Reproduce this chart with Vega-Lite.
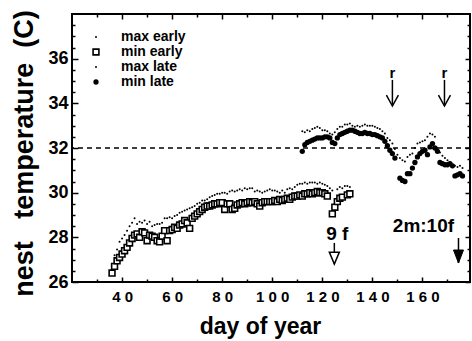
{
  "$schema": "https://vega.github.io/schema/vega-lite/v6.json",
  "width": 398,
  "height": 268,
  "autosize": "none",
  "padding": {"left": 72, "top": 14, "right": 2, "bottom": 59},
  "background": "white",
  "config": {
    "font": "Liberation Sans",
    "view": {"stroke": "black", "strokeWidth": 2},
    "axis": {"domain": false, "grid": false, "tickColor": "black", "tickWidth": 1.5, "labelColor": "black", "titleColor": "black", "labelFont": "Liberation Sans", "titleFont": "Liberation Sans", "labelFontWeight": "bold", "titleFontWeight": "bold"}
  },
  "datasets": {
    "temps": [
      {"day": 36, "min early": 26.4},
      {"day": 37, "min early": 26.7, "max early": 27.2},
      {"day": 38, "min early": 26.95, "max early": 27.45},
      {"day": 39, "min early": 27.1, "max early": 27.8},
      {"day": 40, "min early": 27.25, "max early": 27.95},
      {"day": 41, "min early": 27.4, "max early": 28.1},
      {"day": 42, "min early": 27.55, "max early": 28.3},
      {"day": 43, "min early": 27.75, "max early": 28.5},
      {"day": 44, "min early": 27.95, "max early": 28.65},
      {"day": 45, "min early": 28.1, "max early": 28.85},
      {"day": 46, "min early": 28.15, "max early": 28.6},
      {"day": 47, "min early": 28.0, "max early": 28.7},
      {"day": 48, "min early": 28.25, "max early": 28.65},
      {"day": 49, "min early": 28.2, "max early": 28.75},
      {"day": 50, "min early": 27.85, "max early": 28.6},
      {"day": 51, "min early": 28.1, "max early": 28.7},
      {"day": 52, "min early": 28.05, "max early": 28.5},
      {"day": 53, "min early": 28.0, "max early": 28.55},
      {"day": 54, "min early": 27.85, "max early": 28.6},
      {"day": 55, "min early": 27.8, "max early": 28.6},
      {"day": 56, "min early": 28.05, "max early": 28.65},
      {"day": 57, "min early": 28.3, "max early": 28.85},
      {"day": 58, "min early": 27.85, "max early": 28.85},
      {"day": 59, "min early": 28.3, "max early": 28.9},
      {"day": 60, "min early": 28.35, "max early": 28.85},
      {"day": 61, "min early": 28.45, "max early": 28.95},
      {"day": 62, "min early": 28.4, "max early": 29.0},
      {"day": 63, "min early": 28.55, "max early": 29.1},
      {"day": 64, "min early": 28.6, "max early": 29.15},
      {"day": 65, "min early": 28.75, "max early": 29.2},
      {"day": 66, "min early": 28.65, "max early": 29.25},
      {"day": 67, "min early": 28.4, "max early": 29.3},
      {"day": 68, "min early": 28.85, "max early": 29.35},
      {"day": 69, "min early": 28.95, "max early": 29.4},
      {"day": 70, "min early": 29.05, "max early": 29.5},
      {"day": 71, "min early": 29.15, "max early": 29.55},
      {"day": 72, "min early": 29.25, "max early": 29.65},
      {"day": 73, "min early": 29.35, "max early": 29.65},
      {"day": 74, "min early": 29.4, "max early": 29.7},
      {"day": 75, "min early": 29.4, "max early": 29.8},
      {"day": 76, "min early": 29.45, "max early": 29.85},
      {"day": 77, "min early": 29.5, "max early": 29.9},
      {"day": 78, "min early": 29.5, "max early": 29.95},
      {"day": 79, "min early": 29.55, "max early": 29.95},
      {"day": 80, "min early": 29.55, "max early": 30.0},
      {"day": 81, "min early": 29.25, "max early": 30.0},
      {"day": 82, "min early": 29.5, "max early": 29.95},
      {"day": 83, "min early": 29.5, "max early": 30.05},
      {"day": 84, "min early": 29.25, "max early": 30.1},
      {"day": 85, "min early": 29.3, "max early": 30.05},
      {"day": 86, "min early": 29.45, "max early": 30.1},
      {"day": 87, "min early": 29.5, "max early": 30.15},
      {"day": 88, "min early": 29.55, "max early": 30.1},
      {"day": 89, "min early": 29.5, "max early": 30.2},
      {"day": 90, "min early": 29.55, "max early": 30.15},
      {"day": 91, "min early": 29.6, "max early": 30.2},
      {"day": 92, "min early": 29.55, "max early": 30.2},
      {"day": 93, "min early": 29.6, "max early": 30.05},
      {"day": 94, "min early": 29.5, "max early": 30.1},
      {"day": 95, "min early": 29.4, "max early": 30.05},
      {"day": 96, "min early": 29.55, "max early": 30.0},
      {"day": 97, "min early": 29.6, "max early": 30.05},
      {"day": 98, "min early": 29.6, "max early": 30.1},
      {"day": 99, "min early": 29.6, "max early": 30.15},
      {"day": 100, "min early": 29.6, "max early": 30.1},
      {"day": 101, "min early": 29.65, "max early": 30.1},
      {"day": 102, "min early": 29.6, "max early": 30.05},
      {"day": 103, "min early": 29.7, "max early": 30.0},
      {"day": 104, "min early": 29.65, "max early": 30.1},
      {"day": 105, "min early": 29.7, "max early": 30.0},
      {"day": 106, "min early": 29.75, "max early": 30.15},
      {"day": 107, "min early": 29.7, "max early": 30.2},
      {"day": 108, "min early": 29.8, "max early": 30.15},
      {"day": 109, "min early": 29.85, "max early": 30.25},
      {"day": 110, "min early": 29.85, "max early": 30.35},
      {"day": 111, "min early": 29.9, "max early": 30.4},
      {"day": 112, "min early": 29.85, "max early": 30.4, "max late": 32.75, "min late": 31.85},
      {"day": 113, "min early": 29.95, "max early": 30.45, "max late": 32.7, "min late": 32.15},
      {"day": 114, "min early": 29.95, "max early": 30.4, "max late": 32.8, "min late": 32.25},
      {"day": 115, "min early": 30.0, "max early": 30.45, "max late": 32.75, "min late": 32.3},
      {"day": 116, "min early": 29.95, "max early": 30.45, "max late": 32.85, "min late": 32.35},
      {"day": 117, "min early": 30.0, "max early": 30.45, "max late": 32.9, "min late": 32.4},
      {"day": 118, "min early": 30.05, "max early": 30.4, "max late": 32.95, "min late": 32.45},
      {"day": 119, "min early": 30.0, "max early": 30.45, "max late": 32.9, "min late": 32.45},
      {"day": 120, "min early": 30.0, "max early": 30.4, "max late": 32.8, "min late": 32.45},
      {"day": 121, "min early": 29.95, "max early": 30.35, "max late": 32.8, "min late": 32.5},
      {"day": 122, "min early": 29.85, "max early": 30.3, "max late": 32.75, "min late": 32.5},
      {"day": 123, "max early": 30.2, "max late": 32.65, "min late": 32.45},
      {"day": 124, "min early": 29.05, "max early": 30.1, "max late": 32.6, "min late": 32.25},
      {"day": 125, "min early": 29.35, "max late": 32.7, "min late": 32.2},
      {"day": 126, "min early": 29.6, "max early": 30.15, "max late": 32.85, "min late": 32.45},
      {"day": 127, "min early": 29.75, "max early": 30.25, "max late": 32.95, "min late": 32.6},
      {"day": 128, "min early": 29.8, "max early": 30.2, "max late": 32.95, "min late": 32.65},
      {"day": 129, "max early": 30.3, "max late": 33.05, "min late": 32.7},
      {"day": 130, "min early": 29.9, "max early": 30.3, "max late": 33.05, "min late": 32.75},
      {"day": 131, "min early": 29.95, "max early": 30.25, "max late": 33.1, "min late": 32.8},
      {"day": 132, "max late": 33.0, "min late": 32.8},
      {"day": 133, "max late": 32.95, "min late": 32.75},
      {"day": 134, "max late": 33.0, "min late": 32.7},
      {"day": 135, "max late": 32.95, "min late": 32.65},
      {"day": 136, "max late": 33.0, "min late": 32.65},
      {"day": 137, "max late": 33.05, "min late": 32.7},
      {"day": 138, "max late": 33.0, "min late": 32.65},
      {"day": 139, "max late": 33.0, "min late": 32.65},
      {"day": 140, "max late": 33.0, "min late": 32.6},
      {"day": 141, "max late": 32.95, "min late": 32.6},
      {"day": 142, "max late": 32.9, "min late": 32.55},
      {"day": 143, "max late": 32.85, "min late": 32.5},
      {"day": 144, "max late": 32.75, "min late": 32.45},
      {"day": 145, "max late": 32.65, "min late": 32.3},
      {"day": 146, "max late": 32.45, "min late": 32.1},
      {"day": 147, "max late": 32.35, "min late": 31.9},
      {"day": 148, "max late": 32.2, "min late": 31.75},
      {"day": 149, "max late": 31.95, "min late": 31.55},
      {"day": 150, "max late": 31.7},
      {"day": 151, "max late": 31.55, "min late": 30.65},
      {"day": 152, "max late": 31.45, "min late": 30.55},
      {"day": 153, "max late": 31.4, "min late": 30.5},
      {"day": 154, "max late": 31.6, "min late": 30.85},
      {"day": 155, "max late": 31.7, "min late": 30.85},
      {"day": 156, "max late": 31.75, "min late": 31.1},
      {"day": 157, "max late": 32.0, "min late": 31.35},
      {"day": 158, "max late": 32.2, "min late": 31.6},
      {"day": 159, "max late": 32.25, "min late": 31.75},
      {"day": 160, "max late": 32.3, "min late": 31.85},
      {"day": 161, "max late": 32.35, "min late": 31.9},
      {"day": 162, "max late": 32.5, "min late": 31.7},
      {"day": 163, "max late": 32.65, "min late": 32.05},
      {"day": 164, "max late": 32.6, "min late": 32.2},
      {"day": 165, "max late": 32.5, "min late": 32.0},
      {"day": 166, "max late": 32.0, "min late": 31.85},
      {"day": 167, "max late": 31.8, "min late": 31.35},
      {"day": 168, "max late": 31.65, "min late": 31.3},
      {"day": 169, "max late": 31.55, "min late": 31.25},
      {"day": 170, "max late": 31.45, "min late": 31.25},
      {"day": 171, "max late": 31.35, "min late": 31.3},
      {"day": 172, "max late": 31.25, "min late": 31.2},
      {"day": 173, "max late": 31.2, "min late": 30.75},
      {"day": 174, "max late": 31.15, "min late": 30.8},
      {"day": 175, "max late": 31.2, "min late": 30.85},
      {"day": 176, "max late": 31.1, "min late": 30.75}
    ],
    "arrows": [
      {"day": 148, "top": 35.05, "tip": 33.88, "kind": "r"},
      {"day": 168.8, "top": 35.05, "tip": 33.88, "kind": "r"},
      {"day": 124.8, "top": 27.75, "tip": 26.8, "kind": "open"},
      {"day": 174.4, "top": 27.97, "tip": 26.85, "kind": "solid"}
    ],
    "notes": [
      {"day": 148, "temp": 35.13, "label": "r", "kind": "small"},
      {"day": 168.8, "temp": 35.13, "label": "r", "kind": "small"},
      {"day": 126, "temp": 27.88, "label": "9 f", "kind": "big"},
      {"day": 160.4, "temp": 28.24, "label": "2m:10f", "kind": "big"}
    ],
    "ref": [{"temp": 32}]
  },
  "resolve": {"axis": {"x": "independent", "y": "independent"}},
  "layer": [
    {
      "data": {"name": "ref"},
      "mark": {"type": "rule", "strokeDash": [5, 4], "strokeWidth": 1.3, "color": "black"},
      "encoding": {
        "y": {"field": "temp", "type": "quantitative", "scale": {"domain": [26, 38], "nice": false, "zero": false},
          "axis": {"orient": "left", "values": [26.5, 27, 27.5, 28.5, 29, 29.5, 30.5, 31, 31.5, 32.5, 33, 33.5, 34.5, 35, 35.5, 36.5, 37, 37.5], "tickSize": -3, "labels": false, "title": null}}
      }
    },
    {
      "data": {"name": "temps"},
      "transform": [
        {"fold": ["max early", "min early", "max late", "min late"], "as": ["series", "temp"]},
        {"filter": "isValid(datum.temp)"}
      ],
      "mark": {"type": "point", "filled": true, "stroke": "black", "opacity": 1},
      "encoding": {
        "x": {"field": "day", "type": "quantitative", "scale": {"domain": [20, 179], "nice": false, "zero": false},
          "axis": {"orient": "bottom", "values": [40, 60, 80, 100, 120, 140, 160], "tickSize": -5, "labelPadding": 12, "labelFontSize": 15,
            "labelExpr": "length(datum.label)==3 ? substring(datum.label,0,1)+' '+substring(datum.label,1,2)+' '+substring(datum.label,2,3) : substring(datum.label,0,1)+' '+substring(datum.label,1,2)",
            "title": "day of year", "titleFontSize": 23, "titleX": 188, "titleY": 51, "titleBaseline": "alphabetic", "titleAnchor": null}},
        "y": {"field": "temp", "type": "quantitative", "scale": {"domain": [26, 38], "nice": false, "zero": false},
          "axis": {"orient": "left", "values": [26, 28, 30, 32, 34, 36], "tickSize": -6, "labelPadding": 10, "labelFontSize": 18,
            "title": "nest\u00a0\u00a0 temperature\u00a0 (C)", "titleFontSize": 27, "titleX": -40, "titleY": 139, "titleAngle": -90, "titleAlign": "center", "titleBaseline": "alphabetic"}},
        "shape": {"field": "series", "type": "nominal",
          "scale": {"type": "ordinal", "domain": ["max early", "min early", "max late", "min late"], "range": ["circle", "square", "circle", "circle"]},
          "legend": {"title": null, "orient": "none", "legendX": 17, "legendY": 16, "padding": 0, "labelFont": "Liberation Sans", "labelFontWeight": "bold", "labelFontSize": 14, "labelColor": "black", "labelOffset": 18, "rowPadding": 1, "symbolStrokeColor": "black"}},
        "size": {"field": "series", "type": "nominal",
          "scale": {"type": "ordinal", "domain": ["max early", "min early", "max late", "min late"], "range": [4, 34, 4, 28]}},
        "fill": {"field": "series", "type": "nominal",
          "scale": {"type": "ordinal", "domain": ["max early", "min early", "max late", "min late"], "range": ["black", "white", "black", "black"]}},
        "strokeWidth": {"field": "series", "type": "nominal",
          "scale": {"type": "ordinal", "domain": ["max early", "min early", "max late", "min late"], "range": [0, 1.6, 0, 0]}}
      }
    },
    {
      "data": {"name": "arrows"},
      "mark": {"type": "rule", "strokeWidth": 1.5, "color": "black"},
      "encoding": {
        "x": {"field": "day", "type": "quantitative", "scale": {"domain": [20, 179], "nice": false, "zero": false},
          "axis": {"orient": "bottom", "values": [30, 50, 70, 90, 110, 130, 150, 170], "tickSize": -3, "labels": false, "title": null}},
        "y": {"field": "top", "type": "quantitative", "scale": {"domain": [26, 38], "nice": false, "zero": false},
          "axis": {"orient": "right", "values": [26, 28, 30, 32, 34, 36], "tickSize": -5, "labels": false, "title": null}},
        "y2": {"field": "tip"}
      }
    },
    {
      "data": {"name": "arrows"},
      "transform": [{"filter": "datum.kind == 'r'"}],
      "mark": {"type": "point", "shape": "M-1,-1.8L0,0L1,-1.8", "size": 144, "filled": false, "stroke": "black", "strokeWidth": 1.5, "opacity": 1},
      "encoding": {
        "x": {"field": "day", "type": "quantitative", "scale": {"domain": [20, 179], "nice": false, "zero": false},
          "axis": {"orient": "top", "values": [40, 60, 80, 100, 120, 140, 160], "tickSize": -5, "labels": false, "title": null}},
        "y": {"field": "tip", "type": "quantitative", "scale": {"domain": [26, 38], "nice": false, "zero": false},
          "axis": {"orient": "right", "values": [26.5, 27, 27.5, 28.5, 29, 29.5, 30.5, 31, 31.5, 32.5, 33, 33.5, 34.5, 35, 35.5, 36.5, 37, 37.5], "tickSize": -3, "labels": false, "title": null}}
      }
    },
    {
      "data": {"name": "arrows"},
      "transform": [{"filter": "datum.kind == 'open'"}],
      "mark": {"type": "point", "shape": "M-1,-2.4L0,0L1,-2.4Z", "size": 100, "filled": true, "fill": "white", "stroke": "black", "strokeWidth": 1.5, "opacity": 1},
      "encoding": {
        "x": {"field": "day", "type": "quantitative", "scale": {"domain": [20, 179], "nice": false, "zero": false},
          "axis": {"orient": "top", "values": [30, 50, 70, 90, 110, 130, 150, 170], "tickSize": -3, "labels": false, "title": null}},
        "y": {"field": "tip", "type": "quantitative", "scale": {"domain": [26, 38], "nice": false, "zero": false}, "axis": null}
      }
    },
    {
      "data": {"name": "arrows"},
      "transform": [{"filter": "datum.kind == 'solid'"}],
      "mark": {"type": "point", "shape": "M-1,-2.6L0,0L1,-2.6Z", "size": 100, "filled": true, "fill": "black", "stroke": "black", "strokeWidth": 1, "opacity": 1},
      "encoding": {
        "x": {"field": "day", "type": "quantitative", "scale": {"domain": [20, 179], "nice": false, "zero": false}, "axis": null},
        "y": {"field": "tip", "type": "quantitative", "scale": {"domain": [26, 38], "nice": false, "zero": false}, "axis": null}
      }
    },
    {
      "data": {"name": "notes"},
      "transform": [{"filter": "datum.kind == 'small'"}],
      "mark": {"type": "text", "font": "Liberation Sans", "fontWeight": "bold", "fontSize": 15, "baseline": "alphabetic", "align": "center", "color": "black"},
      "encoding": {
        "x": {"field": "day", "type": "quantitative", "scale": {"domain": [20, 179], "nice": false, "zero": false}, "axis": null},
        "y": {"field": "temp", "type": "quantitative", "scale": {"domain": [26, 38], "nice": false, "zero": false}, "axis": null},
        "text": {"field": "label"}
      }
    },
    {
      "data": {"name": "notes"},
      "transform": [{"filter": "datum.kind == 'big'"}],
      "mark": {"type": "text", "font": "Liberation Sans", "fontWeight": "bold", "fontSize": 19, "baseline": "alphabetic", "align": "center", "color": "black"},
      "encoding": {
        "x": {"field": "day", "type": "quantitative", "scale": {"domain": [20, 179], "nice": false, "zero": false}, "axis": null},
        "y": {"field": "temp", "type": "quantitative", "scale": {"domain": [26, 38], "nice": false, "zero": false}, "axis": null},
        "text": {"field": "label"}
      }
    }
  ]
}
